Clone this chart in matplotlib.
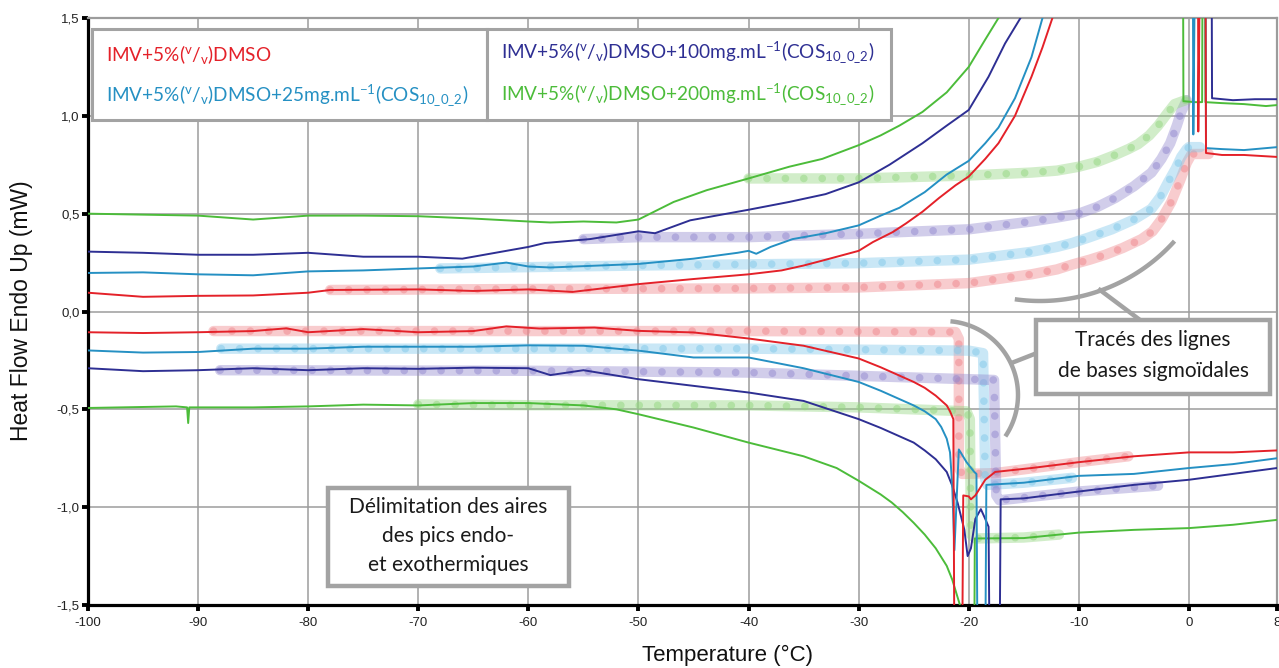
import matplotlib
matplotlib.use('Agg')
import matplotlib.pyplot as plt
import numpy as np
from matplotlib.lines import Line2D
from matplotlib.patches import Rectangle

# ---- data (temperature in degC, heat flow in mW) ----
# heating traces (upper group)
red_heat_T = [-100, -95, -90, -85, -80, -78, -70, -65, -60, -56, -50, -45, -40, -37, -35, -33.3, -30, -28.7, -26.9, -25.7, -24.2, -22.7, -21.2, -20, -18.5, -17.3, -15.8, -14.3, -13.3, -12.4, -8, 0.8, 0.85, 1.2, 1.45, 1.55, 3, 5, 8]
red_heat_y = [0.096, 0.075, 0.08, 0.082, 0.096, 0.11, 0.113, 0.105, 0.113, 0.10, 0.14, 0.166, 0.19, 0.21, 0.235, 0.26, 0.31, 0.355, 0.406, 0.45, 0.51, 0.58, 0.645, 0.69, 0.78, 0.86, 1.0, 1.2, 1.35, 1.5, 3, 3, 0.92, 3, 3, 0.81, 0.80, 0.80, 0.79]

lb_heat_T = [-100, -95, -90, -85, -80, -75, -70, -65, -62, -60, -58, -50, -45, -41, -40, -39.3, -38, -36, -33, -30, -28, -26.3, -24, -22, -20, -18.5, -17.3, -15.8, -14.3, -13.3, -8, 0.3, 0.4, 0.75, 1.45, 1.55, 3, 5, 8]
lb_heat_y = [0.197, 0.20, 0.19, 0.185, 0.205, 0.21, 0.22, 0.23, 0.25, 0.23, 0.225, 0.243, 0.27, 0.30, 0.31, 0.295, 0.33, 0.37, 0.40, 0.44, 0.49, 0.53, 0.61, 0.70, 0.77, 0.86, 0.94, 1.09, 1.3, 1.5, 3, 3, 0.905, 3, 3, 0.835, 0.83, 0.825, 0.84]

db_heat_T = [-100, -95, -90, -85, -80, -75, -70, -66, -63, -60, -58.5, -54.4, -50, -48.5, -45.3, -40, -36.3, -33, -30, -27.2, -24.2, -22, -20, -18.2, -16.7, -15.3, -8, 2.0, 2.1, 4, 6, 8]
db_heat_y = [0.306, 0.30, 0.29, 0.29, 0.30, 0.28, 0.28, 0.27, 0.30, 0.33, 0.35, 0.37, 0.41, 0.40, 0.466, 0.52, 0.56, 0.60, 0.66, 0.75, 0.86, 0.95, 1.03, 1.2, 1.37, 1.5, 3, 3, 1.09, 1.08, 1.085, 1.085]

gr_heat_T = [-100, -95, -90, -85, -80, -75, -70, -65, -60, -58, -55, -52, -50, -46.8, -43.8, -40, -36.3, -33.3, -30, -28, -26.3, -24.2, -22, -20, -18.5, -17.3, -8, -0.6, -0.5, 0.5, 1.2, 1.3, 1.4, 1.5, 3, 5, 7, 8]
gr_heat_y = [0.50, 0.495, 0.49, 0.47, 0.49, 0.49, 0.487, 0.475, 0.46, 0.455, 0.46, 0.455, 0.47, 0.56, 0.62, 0.68, 0.74, 0.78, 0.85, 0.90, 0.95, 1.02, 1.12, 1.25, 1.39, 1.5, 3, 3, 1.075, 1.07, 1.07, 3, 3, 1.07, 1.065, 1.06, 1.05, 1.055]

# cooling traces (lower group)
red_cool_T = [-100, -95, -90, -85, -82, -80, -75, -70, -65, -62, -59, -54, -50, -45, -40, -35, -30, -28, -26, -25, -24, -23, -22.5, -22, -21.7, -21.4, -21.3, -20.6, -20.5, -20.0, -19.8, -19.4, -18.5, -17.6, -14.3, -10, -5, 0, 4, 8]
red_cool_y = [-0.106, -0.11, -0.106, -0.10, -0.086, -0.106, -0.09, -0.106, -0.10, -0.076, -0.087, -0.082, -0.099, -0.107, -0.138, -0.175, -0.24, -0.285, -0.335, -0.36, -0.39, -0.43, -0.455, -0.48, -0.51, -0.55, -1.8, -1.8, -0.94, -0.945, -0.96, -0.94, -0.86, -0.82, -0.80, -0.77, -0.74, -0.72, -0.72, -0.71]

lb_cool_T = [-100, -95, -90, -85, -80, -75, -70, -65, -60, -55, -50, -45, -40, -35, -30, -28, -26, -25, -24, -23, -22.5, -22, -21.7, -21.5, -21.3, -20.9, -20.2, -19.5, -19.3, -19.2, -18.5, -18.4, -15, -10, -5, 0, 4, 8]
lb_cool_y = [-0.199, -0.21, -0.207, -0.19, -0.19, -0.18, -0.18, -0.18, -0.173, -0.175, -0.20, -0.235, -0.235, -0.29, -0.36, -0.405, -0.455, -0.48, -0.51, -0.55, -0.59, -0.65, -0.72, -0.89, -1.22, -0.705, -0.77, -0.82, -0.83, -1.8, -1.8, -0.886, -0.875, -0.84, -0.83, -0.80, -0.78, -0.75]

db_cool_T = [-100, -95, -90, -85, -80, -75, -70, -65, -60, -58, -55, -50, -45, -40, -35, -30, -28, -26, -25, -24, -23, -22, -21.5, -21.0, -20.4, -20.1, -19.8, -19.4, -18.9, -18.5, -18.2, -18.1, -17.2, -17.1, -15, -10, -5, 0, 4, 8]
db_cool_y = [-0.29, -0.305, -0.30, -0.29, -0.30, -0.29, -0.293, -0.287, -0.29, -0.325, -0.30, -0.346, -0.38, -0.414, -0.457, -0.55, -0.595, -0.645, -0.67, -0.71, -0.755, -0.82, -0.89, -0.98, -1.115, -1.25, -1.21, -1.06, -1.01, -1.06, -1.10, -1.8, -1.8, -0.96, -0.955, -0.92, -0.886, -0.86, -0.83, -0.80]

gr_cool_T = [-100, -92, -91, -90.9, -90.8, -90, -85, -80, -75, -70, -65, -60, -55, -52, -50, -45, -40, -35, -32, -30, -28, -27, -26, -25, -24, -23, -22, -21.5, -20.8, -20.4, -19.5, -19.45, -15, -10, -5, 0, 4, 8]
gr_cool_y = [-0.493, -0.485, -0.49, -0.57, -0.49, -0.49, -0.49, -0.485, -0.476, -0.48, -0.468, -0.468, -0.48, -0.50, -0.525, -0.593, -0.67, -0.74, -0.80, -0.865, -0.935, -0.976, -1.025, -1.08, -1.14, -1.21, -1.30, -1.37, -1.5, -1.8, -1.8, -1.16, -1.158, -1.13, -1.116, -1.107, -1.09, -1.065]

# sigmoidal baselines (heating)
red_bh_T = [-78, -60, -40, -30, -20, -14.3, -12, -10.6, -9, -7.6, -6, -4.3, -3.3, -2.5, -1.6, -0.8, -0.2, 0.25, 1.8]
red_bh_y = [0.11, 0.115, 0.118, 0.123, 0.145, 0.19, 0.215, 0.24, 0.265, 0.29, 0.325, 0.37, 0.41, 0.47, 0.56, 0.67, 0.76, 0.805, 0.805]
lb_bh_T = [-68, -50, -30, -20, -14.3, -12, -10.6, -9, -7, -5, -3.4, -2.6, -1.9, -1.2, -0.7, -0.2, 0, 1.0]
lb_bh_y = [0.22, 0.235, 0.247, 0.265, 0.305, 0.33, 0.35, 0.38, 0.42, 0.47, 0.525, 0.585, 0.66, 0.73, 0.79, 0.83, 0.84, 0.84]
db_bh_T = [-55, -50, -40, -30, -20, -14.3, -12, -10, -8.3, -6.7, -5, -3.4, -2.5, -1.7, -1.1, -0.7, -0.2]
db_bh_y = [0.37, 0.38, 0.38, 0.397, 0.42, 0.46, 0.48, 0.50, 0.535, 0.58, 0.64, 0.71, 0.78, 0.86, 0.95, 1.02, 1.08]
gr_bh_T = [-40, -30, -20, -14.3, -12, -10, -8.3, -6.7, -5.5, -4.6, -3.6, -2.8, -2, -1.3, -0.3]
gr_bh_y = [0.68, 0.68, 0.695, 0.71, 0.72, 0.74, 0.765, 0.80, 0.83, 0.856, 0.90, 0.95, 1.01, 1.06, 1.08]

# step baselines (cooling)
red_bc_T = [-88.6, -60, -40, -21.2, -20.9, -20.9, -20.6, -17.6, -10, -5.5]
red_bc_y = [-0.10, -0.10, -0.10, -0.105, -0.14, -0.80, -0.83, -0.826, -0.77, -0.74]
lb_bc_T = [-87.9, -60, -40, -20, -18.7, -18.5, -18.3, -15, -10.6]
lb_bc_y = [-0.19, -0.19, -0.19, -0.20, -0.213, -0.86, -0.886, -0.875, -0.85]
db_bc_T = [-88, -60, -40, -20, -17.7, -17.5, -17.2, -10, -2.8]
db_bc_y = [-0.30, -0.303, -0.312, -0.346, -0.35, -0.94, -0.965, -0.92, -0.89]
gr_bc_T = [-70, -60, -40, -30, -20.2, -19.9, -19.8, -19.4, -15, -11.8]
gr_bc_y = [-0.475, -0.479, -0.48, -0.49, -0.51, -0.55, -1.14, -1.16, -1.155, -1.14]

x_ticks = [-100, -90, -80, -70, -60, -50, -40, -30, -20, -10, 0, 8]
x_ticklabels = ['-100', '-90', '-80', '-70', '-60', '-50', '-40', '-30', '-20', '-10', '0', '8']
y_ticks = [-1.5, -1.0, -0.5, 0.0, 0.5, 1.0, 1.5]
y_ticklabels = ['-1,5', '-1,0', '-0,5', '0,0', '0,5', '1,0', '1,5']

legend_labels = [
    r'IMV+5%($^{\mathregular{v}}$/$_{\mathregular{v}}$)DMSO',
    r'IMV+5%($^{\mathregular{v}}$/$_{\mathregular{v}}$)DMSO+25mg.mL$^{\mathregular{-1}}$(COS$_{\mathregular{10\_0\_2}}$)',
    r'IMV+5%($^{\mathregular{v}}$/$_{\mathregular{v}}$)DMSO+100mg.mL$^{\mathregular{-1}}$(COS$_{\mathregular{10\_0\_2}}$)',
    r'IMV+5%($^{\mathregular{v}}$/$_{\mathregular{v}}$)DMSO+200mg.mL$^{\mathregular{-1}}$(COS$_{\mathregular{10\_0\_2}}$)',
]

RED, LBLUE, DBLUE, GREEN = '#e42129', '#2590c3', '#2e2f93', '#4cbc3a'
BANDS = {RED: '#f0868c', LBLUE: '#80c8ea', DBLUE: '#9288cf', GREEN: '#92d67f'}
GREY = '#a3a3a3'

plt.rcParams['axes.unicode_minus'] = False
plt.rcParams['mathtext.fontset'] = 'custom'
plt.rcParams['mathtext.rm'] = 'Lato'
plt.rcParams['mathtext.it'] = 'Lato:italic'
plt.rcParams['mathtext.bf'] = 'Lato:bold'

W, H = 1279, 668
fig = plt.figure(figsize=(W / 100, H / 100), dpi=100, facecolor='white')
ax = fig.add_axes([88 / W, 63 / H, 1189 / W, 587 / H])


def px(x, y):
    # image pixel (y down) -> figure fraction
    return x / W, 1 - y / H


def baseline(T, y, c):
    ax.plot(T, y, color=BANDS[c], lw=7.5, alpha=0.42, solid_capstyle='round',
            solid_joinstyle='round', zorder=2)
    ax.plot(T, y, color=BANDS[c], lw=5.5, alpha=0.5, ls=(0, (0.01, 2.4)),
            dash_capstyle='round', zorder=2)


baseline(red_bh_T, red_bh_y, RED)
baseline(lb_bh_T, lb_bh_y, LBLUE)
baseline(db_bh_T, db_bh_y, DBLUE)
baseline(gr_bh_T, gr_bh_y, GREEN)
baseline(red_bc_T, red_bc_y, RED)
baseline(lb_bc_T, lb_bc_y, LBLUE)
baseline(db_bc_T, db_bc_y, DBLUE)
baseline(gr_bc_T, gr_bc_y, GREEN)

for T, y, c in [(gr_heat_T, gr_heat_y, GREEN), (db_heat_T, db_heat_y, DBLUE),
                (lb_heat_T, lb_heat_y, LBLUE), (red_heat_T, red_heat_y, RED),
                (gr_cool_T, gr_cool_y, GREEN), (db_cool_T, db_cool_y, DBLUE),
                (lb_cool_T, lb_cool_y, LBLUE), (red_cool_T, red_cool_y, RED)]:
    ax.plot(T, y, color=c, lw=1.4, zorder=3)

ax.set_xlim(-100, 8)
ax.set_ylim(-1.5, 1.5)
ax.set_xticks(x_ticks)
ax.set_xticklabels(x_ticklabels)
ax.set_yticks(y_ticks)
ax.set_yticklabels(y_ticklabels)
ax.grid(True, color='#9c9c9c', lw=1.1, zorder=0)
ax.set_axisbelow(True)
for s in ['left', 'bottom']:
    ax.spines[s].set_linewidth(2.3)
    ax.spines[s].set_color('black')
for s in ['top', 'right']:
    ax.spines[s].set_linewidth(1.6)
    ax.spines[s].set_color('#9c9c9c')
ax.tick_params(axis='both', direction='out', length=4, width=2.8, color='black',
               labelsize=9.5, labelcolor='#222222')
ax.tick_params(axis='x', pad=5)
ax.tick_params(axis='y', pad=2)
for lab in ax.get_xticklabels() + ax.get_yticklabels():
    lab.set_fontfamily('Liberation Sans')

fig.text(*px(727, 655), 'Temperature (°C)', ha='center', va='center',
         fontsize=16, family='Liberation Sans', color='#111111')
fig.text(*px(22, 311), 'Heat Flow Endo Up (mW)', ha='center', va='center',
         rotation=90, fontsize=16.5, family='Liberation Sans', color='#111111')

# legend frame (two cells)
for x0, x1 in [(92, 487), (487, 891)]:
    fx0, fy0 = px(x0, 120)
    fx1, fy1 = px(x1, 29)
    fig.add_artist(Rectangle((fx0, fy0), fx1 - fx0, fy1 - fy0, transform=fig.transFigure,
                             facecolor='white', edgecolor=GREY, lw=2.2, zorder=5))
leg_pos = [(106, 55), (106, 95), (501, 52), (501, 94)]
for (lx, ly), lab, c in zip(leg_pos, legend_labels, [RED, LBLUE, DBLUE, GREEN]):
    fig.text(*px(lx, ly), lab, ha='left', va='center', fontsize=13.7,
             family='Lato', color=c, zorder=6)


# annotation boxes
def note_box(x0, y0, x1, y1, lines, ys):
    fx0, fy0 = px(x0, y1)
    fx1, fy1 = px(x1, y0)
    fig.add_artist(Rectangle((fx0, fy0), fx1 - fx0, fy1 - fy0, transform=fig.transFigure,
                             facecolor='white', edgecolor=GREY, lw=3.2, zorder=5))
    for t, yy in zip(lines, ys):
        fig.text(*px((x0 + x1) / 2, yy), t, ha='center', va='center', fontsize=15,
                 family='Lato', color='#1a1a1a', zorder=6)


note_box(1036, 320, 1270, 394, ['Tracés des lignes', 'de bases sigmoïdales'], [340, 371])
note_box(328, 488, 569, 586, ['Délimitation des aires', 'des pics endo-', 'et exothermiques'],
         [507, 536, 565])


# grey arcs and connectors
def arc(cx, cy, r, a0, a1):
    a = np.radians(np.linspace(a0, a1, 60))
    xs = cx + r * np.cos(a)
    ys = cy + r * np.sin(a)
    fx, fy = px(xs, ys)
    fig.add_artist(Line2D(fx, fy, transform=fig.transFigure, color=GREY, lw=3.2,
                          solid_capstyle='butt', zorder=4))


def seg(x0, y0, x1, y1):
    fx, fy = px(np.array([x0, x1]), np.array([y0, y1]))
    fig.add_artist(Line2D(fx, fy, transform=fig.transFigure, color=GREY, lw=3.2, zorder=4))


arc(1040, 120, 181, 98, 42)
seg(1100, 290, 1140, 320)
arc(944, 395, 74, -85, 34)
seg(1014, 362, 1037, 353)

fig.savefig('out.png', dpi=100, facecolor='white')
